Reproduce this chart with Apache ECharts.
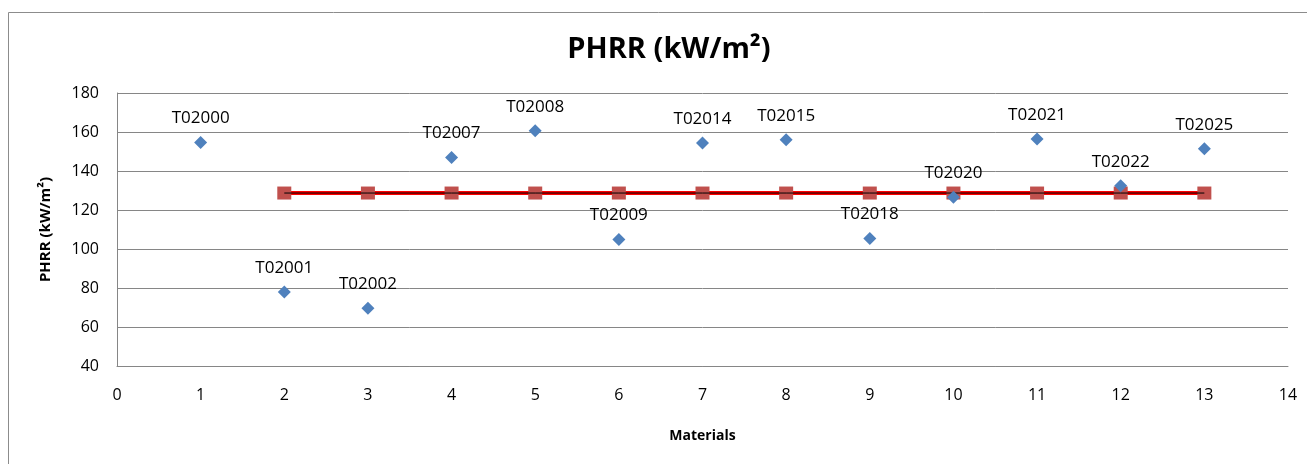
<!DOCTYPE html>
<html>
<head>
<meta charset="utf-8">
<title>PHRR (kW/m²)</title>
<script src="https://cdn.jsdelivr.net/npm/echarts@6/dist/echarts.min.js"></script>
<style>
  html, body { margin: 0; padding: 0; background: #fff; }
  #chart { width: 1307px; height: 464px; }
</style>
</head>
<body>
<div id="chart"></div>
<script>
// Material index, test code and peak heat release rate of each sample
const materials = [1, 2, 3, 4, 5, 6, 7, 8, 9, 10, 11, 12, 13];
const codes = ['T02000', 'T02001', 'T02002', 'T02007', 'T02008', 'T02009', 'T02014',
               'T02015', 'T02018', 'T02020', 'T02021', 'T02022', 'T02025'];
const phrr = [154.6, 78.0, 69.6, 146.9, 160.6, 104.9, 154.3, 156.0, 105.4, 126.6, 156.4, 132.4, 151.4];

// Reference level drawn across materials 2 to 13
const refX = [2, 3, 4, 5, 6, 7, 8, 9, 10, 11, 12, 13];
const refY = [128.7, 128.7, 128.7, 128.7, 128.7, 128.7, 128.7, 128.7, 128.7, 128.7, 128.7, 128.7];

// Axis ranges
const xTicks = { min: 0, max: 14, step: 1 };
const yTicks = { min: 40, max: 180, step: 20 };

const FONT = '"Open Sans", "Noto Sans", sans-serif';

const points = materials.map((m, i) => [m, phrr[i], codes[i]]);
const refLine = refX.map((x, i) => [x, refY[i]]);

const chart = echarts.init(document.getElementById('chart'), null, { renderer: 'canvas' });

chart.setOption({
  backgroundColor: '#ffffff',
  animation: false,
  title: {
    text: 'PHRR (kW/m²)',
    left: 664,
    top: 30,
    textAlign: 'center',
    textStyle: { fontFamily: FONT, fontSize: 29, fontWeight: 'bold', color: '#000' }
  },
  graphic: [{
    type: 'rect',
    silent: true,
    shape: { x: 8.5, y: 12.5, width: 1400, height: 600 },
    style: { fill: 'none', stroke: '#8c8c8c', lineWidth: 1 }
  }],
  grid: { left: 117, right: 19, top: 93, bottom: 98 },
  xAxis: {
    type: 'value',
    min: xTicks.min,
    max: xTicks.max,
    interval: xTicks.step,
    name: 'Materials',
    nameLocation: 'middle',
    nameGap: 63,
    nameTextStyle: { fontFamily: FONT, fontSize: 14, fontWeight: 'bold', color: '#000' },
    axisLine: { show: true, onZero: false, lineStyle: { color: '#868686', width: 1 } },
    axisTick: { show: false },
    axisLabel: { fontFamily: FONT, fontSize: 16, color: '#000', margin: 21 },
    splitLine: { show: false }
  },
  yAxis: {
    type: 'value',
    min: yTicks.min,
    max: yTicks.max,
    interval: yTicks.step,
    name: 'PHRR (kW/m²)',
    nameLocation: 'middle',
    nameGap: 64,
    nameRotate: 90,
    nameTextStyle: { fontFamily: FONT, fontSize: 15, fontWeight: 'bold', color: '#000' },
    axisLine: { show: true, lineStyle: { color: '#868686', width: 1 } },
    axisTick: { show: false },
    axisLabel: { fontFamily: FONT, fontSize: 16, color: '#000', margin: 18 },
    splitLine: { show: true, lineStyle: { color: '#868686', width: 1 } }
  },
  series: [
    {
      // red band with square markers
      name: 'reference',
      type: 'line',
      data: refLine,
      symbol: 'rect',
      symbolSize: [14, 13],
      showSymbol: true,
      itemStyle: { color: '#C0504D', borderWidth: 0, opacity: 1 },
      lineStyle: { color: '#FF0000', width: 4 },
      z: 2
    },
    {
      // thin dark core of the reference line, drawn over the squares
      name: 'reference-core',
      type: 'line',
      data: refLine,
      showSymbol: false,
      symbol: 'none',
      lineStyle: { color: '#000000', width: 1 },
      z: 3
    },
    {
      name: 'PHRR',
      type: 'scatter',
      data: points,
      symbol: 'diamond',
      symbolSize: [13, 13],
      itemStyle: { color: '#4F81BD', opacity: 1 },
      label: {
        show: true,
        position: 'top',
        distance: 9,
        formatter: p => p.value[2],
        fontFamily: FONT,
        fontSize: 17,
        color: '#000'
      },
      z: 4
    }
  ]
});
</script>
</body>
</html>
